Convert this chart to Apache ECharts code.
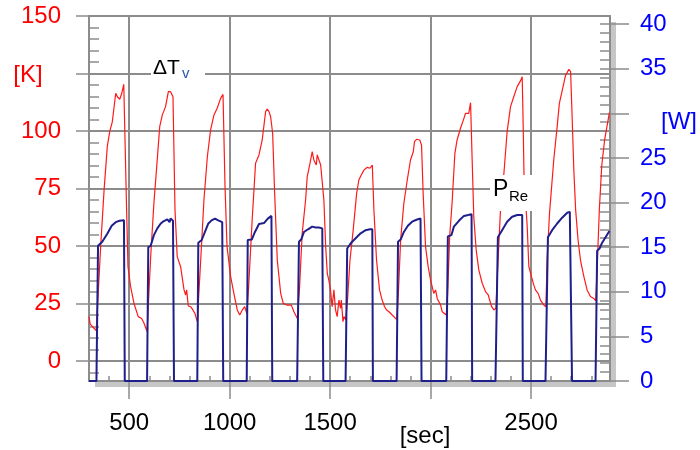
<!DOCTYPE html>
<html>
<head>
<meta charset="utf-8">
<script src="https://cdn.jsdelivr.net/npm/echarts@6/dist/echarts.min.js"></script>
<style>
  html, body { margin: 0; padding: 0; background: #fff; }
  #chart { width: 700px; height: 450px; }
</style>
</head>
<body>
<div id="chart"></div>
<script>
// Time axis [sec]
const timeMajorTicks = [500, 1000, 1500, 2000, 2500];
const timeLabelValues = [500, 1000, 1500, 2500];
// Temperature axis [K]
const tempMajorTicks = [0, 25, 50, 75, 100, 125, 150];
const tempLabelValues = [0, 25, 50, 75, 100, 150];
// Power axis [W]
const powerMajorTicks = [0, 5, 10, 15, 20, 25, 30, 35, 40];
const powerLabelValues = [0, 5, 10, 15, 20, 25, 35, 40];

// ΔT_v  [sec, K]
const tempSamples = [
  [300,19.3],[306,16.0],[318,14.9],[336,13.2],[342,12.8],
  [358,49.7],[375,74.3],[391,93.2],[403,99.7],[416,104.0],[433,116.4],[441,114.9],[453,113.8],[463,116.4],[473,120.3],
  [486,70.0],[494,41.0],[507,32.3],[524,25.0],[545,19.3],[562,18.5],[574,16.4],[589,12.8],
  [607,45.4],[623,68.6],[637,84.5],[652,101.9],[665,107.0],[681,110.6],[695,117.1],[706,117.1],[718,114.9],
  [728,65.7],[739,45.4],[756,41.0],[773,30.9],[781,28.7],[786,30.9],[794,23.9],[806,23.6],[817,22.2],[827,20.7],[839,17.1],
  [856,43.9],[872,70.0],[889,88.8],[905,100.4],[922,107.0],[938,109.9],[955,114.2],[967,115.9],
  [977,75.8],[987,49.7],[1005,36.7],[1021,29.4],[1038,22.2],[1050,20.0],[1063,22.2],[1075,23.6],[1086,20.5],
  [1095,33.0],[1113,62.7],[1129,86.0],[1146,89.6],[1162,96.1],[1179,108.4],[1187,109.5],[1196,108.4],[1204,106.2],[1209,107.0],
  [1214,99.0],[1224,72.9],[1237,43.9],[1254,29.4],[1267,25.0],[1287,24.3],[1307,24.3],[1320,21.4],[1337,18.5],
  [1348,32.0],[1361,55.5],[1378,70.0],[1386,80.1],[1400,86.0],[1411,91.0],[1419,87.4],[1431,85.2],[1436,89.6],[1444,90.3],[1453,85.2],[1461,84.8],
  [1469,70.0],[1478,49.7],[1486,38.1],[1494,34.9],[1502,30.9],[1510,23.6],[1519,30.9],[1527,22.2],[1535,19.3],[1544,26.5],[1552,22.9],[1556,26.5],[1564,17.1],[1569,19.3],[1578,17.8],
  [1587,27.0],[1599,43.9],[1615,57.0],[1632,72.9],[1643,78.7],[1655,80.9],[1668,83.0],[1685,84.2],[1698,83.8],[1710,85.2],
  [1718,65.7],[1731,43.9],[1746,30.9],[1759,26.5],[1771,23.6],[1781,22.2],[1793,21.4],[1809,20.0],[1832,18.0],
  [1840,30.0],[1851,52.6],[1867,68.6],[1884,78.7],[1900,87.4],[1914,91.0],[1920,95.4],[1930,96.4],[1946,96.1],[1955,93.9],
  [1963,72.9],[1975,49.7],[1988,41.0],[2000,35.2],[2016,29.4],[2025,30.9],[2033,27.2],[2050,24.3],[2058,21.4],[2078,20.0],
  [2085,29.4],[2095,54.0],[2108,70.0],[2121,90.3],[2132,96.1],[2149,101.2],[2166,105.5],[2174,107.7],[2182,107.2],[2190,107.7],[2199,112.3],
  [2207,87.4],[2215,62.7],[2227,48.3],[2240,39.6],[2257,33.8],[2274,30.1],[2287,28.7],[2294,26.5],[2304,23.6],[2315,22.2],[2325,22.9],
  [2336,43.9],[2348,65.7],[2365,81.6],[2381,99.7],[2398,110.6],[2414,114.9],[2431,119.3],[2448,121.9],[2456,123.6],
  [2461,101.9],[2465,80.9],[2481,58.4],[2489,41.0],[2502,36.7],[2514,33.0],[2522,30.9],[2535,29.4],[2547,26.5],[2564,24.3],[2574,23.6],
  [2580,43.9],[2592,64.2],[2613,87.4],[2630,101.9],[2641,112.0],[2652,116.4],[2663,120.7],[2672,124.3],[2680,125.4],[2688,126.8],[2697,125.8],
  [2705,104.8],[2713,83.0],[2722,65.7],[2734,52.6],[2746,43.9],[2763,36.7],[2779,30.9],[2796,28.0],[2812,27.2],[2822,26.2],
  [2829,40.0],[2840,66.0],[2852,85.0],[2866,96.0],[2890,108.0]
];

// P_Re  [sec, W]
const powerSamples = [
  [300,0],[337,0],
  [345,15.15],[366,15.6],[391,16.5],[413,17.4],[433,17.8],[452,17.95],[474,18.0],[478,0],
  [589,0],[595,15.0],[607,15.15],[623,16.35],[640,17.1],[657,17.65],[668,17.85],[677,17.65],[690,18.1],[701,17.8],[706,18.2],[718,17.95],[723,0],
  [839,0],[844,15.5],[861,15.8],[877,16.7],[894,17.65],[910,18.0],[927,18.2],[943,18.0],[963,17.8],[968,0],
  [1085,0],[1090,15.8],[1110,15.85],[1126,16.7],[1146,17.6],[1171,17.7],[1190,18.2],[1208,18.5],[1212,0],
  [1336,0],[1345,15.6],[1356,15.85],[1370,16.7],[1390,17.0],[1411,17.3],[1420,17.45],[1428,17.2],[1436,17.4],[1444,17.2],[1453,17.35],[1461,17.1],[1466,0],
  [1577,0],[1585,14.85],[1605,15.5],[1627,16.0],[1652,16.55],[1677,16.9],[1698,17.0],[1710,17.0],[1713,0],
  [1831,0],[1838,15.6],[1851,15.85],[1867,16.7],[1887,17.4],[1908,17.85],[1933,18.1],[1950,18.2],[1955,0],
  [2078,0],[2086,16.2],[2104,16.35],[2116,17.3],[2141,17.95],[2166,18.5],[2187,18.6],[2204,18.7],[2207,0],
  [2323,0],[2335,16.1],[2356,16.9],[2381,17.85],[2406,18.4],[2431,18.6],[2456,18.6],[2459,0],
  [2572,0],[2584,16.1],[2605,16.9],[2630,17.65],[2655,18.3],[2680,18.85],[2693,18.95],[2701,18.85],[2704,0],
  [2821,0],[2829,14.6],[2841,14.85],[2854,15.5],[2871,16.1],[2890,16.8]
];

// evenly spaced minor tick positions
function steps(from, to, step) {
  const out = [];
  for (let v = from; v <= to + 1e-9; v += step) out.push(v);
  return out;
}
const plain = v => String(v);

const T_MIN = 300, T_MAX = 2893;
const K_MIN = -8.7, K_MAX = 150;
const W_MIN = 0, W_MAX = 40.9;

const gray = '#8c8c8c';
const FONT = 'Liberation Sans';
const off = { show: false };

const chart = echarts.init(document.getElementById('chart'));

chart.setOption({
  animation: false,
  backgroundColor: '#fff',
  grid: {
    left: 89, right: 90, top: 16, bottom: 69,
    show: true, backgroundColor: '#fff', borderWidth: 0,
    shadowColor: '#c6c6c6', shadowBlur: 0, shadowOffsetX: 6, shadowOffsetY: 6,
    containLabel: false, outerBoundsMode: 'none'
  },
  xAxis: [
    { // time axis with grid lines and labels
      type: 'value', min: T_MIN, max: T_MAX, position: 'bottom',
      minInterval: 500, maxInterval: 500,
      axisLine: { show: true, onZero: false, lineStyle: { color: gray, width: 2 } },
      axisTick: { show: true, inside: false, length: 18, customValues: timeMajorTicks, lineStyle: { color: gray, width: 1.5 } },
      axisLabel: { show: true, customValues: timeLabelValues, formatter: plain, color: '#000', fontSize: 24, fontFamily: FONT, margin: 30 },
      splitLine: { show: true, lineStyle: { color: gray, width: 2 } }
    },
    { // 100 s minor ticks
      type: 'value', min: T_MIN, max: T_MAX, position: 'bottom',
      axisLine: { show: false, onZero: false },
      axisTick: { show: true, inside: true, length: 5, customValues: steps(400, 2800, 100), lineStyle: { color: gray, width: 1.5 } },
      axisLabel: off, splitLine: off
    },
    { // top frame edge
      type: 'value', min: T_MIN, max: T_MAX, position: 'top',
      axisLine: { show: true, onZero: false, lineStyle: { color: gray, width: 2 } },
      axisTick: off, axisLabel: off, splitLine: off
    }
  ],
  yAxis: [
    { // ΔT_v [K]
      type: 'value', min: K_MIN, max: K_MAX, position: 'left',
      minInterval: 25, maxInterval: 25,
      axisLine: { show: true, onZero: false, lineStyle: { color: gray, width: 2 } },
      axisTick: { show: true, inside: false, length: 13, customValues: tempMajorTicks, lineStyle: { color: gray, width: 1.5 } },
      axisLabel: { show: true, customValues: tempLabelValues, formatter: plain, color: '#ff0000', fontSize: 24, fontFamily: FONT, margin: 28 },
      splitLine: { show: true, lineStyle: { color: gray, width: 2 } }
    },
    { // 5 K minor ticks
      type: 'value', min: K_MIN, max: K_MAX, position: 'left',
      axisLine: { show: false, onZero: false },
      axisTick: { show: true, inside: true, length: 10, customValues: steps(-5, 150, 5), lineStyle: { color: gray, width: 1.5 } },
      axisLabel: off, splitLine: off
    },
    { // P_Re [W]
      type: 'value', min: W_MIN, max: W_MAX, position: 'right',
      minInterval: 5, maxInterval: 5,
      axisLine: { show: true, onZero: false, lineStyle: { color: gray, width: 2 } },
      axisTick: { show: true, inside: false, length: 19, customValues: powerMajorTicks, lineStyle: { color: gray, width: 1.5 } },
      axisLabel: { show: true, customValues: powerLabelValues, formatter: plain, color: '#0000ff', fontSize: 24, fontFamily: FONT, margin: 30 },
      splitLine: off
    },
    { // 1 W minor ticks
      type: 'value', min: W_MIN, max: W_MAX, position: 'right',
      axisLine: { show: false, onZero: false },
      axisTick: { show: true, inside: true, length: 10, customValues: steps(0, 40, 1), lineStyle: { color: gray, width: 1.5 } },
      axisLabel: off, splitLine: off
    }
  ],
  series: [
    {
      name: 'ΔTv', type: 'line', xAxisIndex: 0, yAxisIndex: 0,
      data: tempSamples, showSymbol: false, symbol: 'none', z: 2,
      lineStyle: { color: '#ff1a1a', width: 1.2 }
    },
    {
      name: 'PRe', type: 'line', xAxisIndex: 0, yAxisIndex: 2,
      data: powerSamples, showSymbol: false, symbol: 'none', z: 3, clip: false,
      lineStyle: { color: '#1f1f8c', width: 2 }
    }
  ],
  graphic: [
    // axis units
    { type: 'text', x: 28, y: 75, z: 10, style: { text: '[K]', fill: '#ff0000', font: '24px "Liberation Sans"', align: 'center', verticalAlign: 'middle' } },
    { type: 'text', x: 679, y: 122, z: 10, style: { text: '[W]', fill: '#0000ff', font: '24px "Liberation Sans"', align: 'center', verticalAlign: 'middle' } },
    { type: 'text', x: 425, y: 436, z: 10, style: { text: '[sec]', fill: '#000', font: '24px "Liberation Sans"', align: 'center', verticalAlign: 'middle' } },
    // the 75 K grid line stops at the P_Re tag
    { type: 'rect', z: 1, shape: { x: 534, y: 186.5, width: 75, height: 4 }, style: { fill: '#fff' } },
    // curve tags on white boxes
    { type: 'rect', z: 100, shape: { x: 151, y: 61, width: 54, height: 24 }, style: { fill: '#fff' } },
    { type: 'text', x: 153, y: 68.5, z: 101, style: { text: 'ΔT', fill: '#000', font: '21px "Liberation Sans"', align: 'left', verticalAlign: 'middle' } },
    { type: 'text', x: 182, y: 74, z: 101, style: { text: 'v', fill: '#2a55a8', font: '15px "Liberation Sans"', align: 'left', verticalAlign: 'middle' } },
    { type: 'rect', z: 100, shape: { x: 490, y: 175, width: 44, height: 36 }, style: { fill: '#fff' } },
    { type: 'text', x: 493, y: 190, z: 101, style: { text: 'P', fill: '#000', font: '23px "Liberation Sans"', align: 'left', verticalAlign: 'middle' } },
    { type: 'text', x: 509, y: 197, z: 101, style: { text: 'Re', fill: '#000', font: '15px "Liberation Sans"', align: 'left', verticalAlign: 'middle' } }
  ]
});
</script>
</body>
</html>
